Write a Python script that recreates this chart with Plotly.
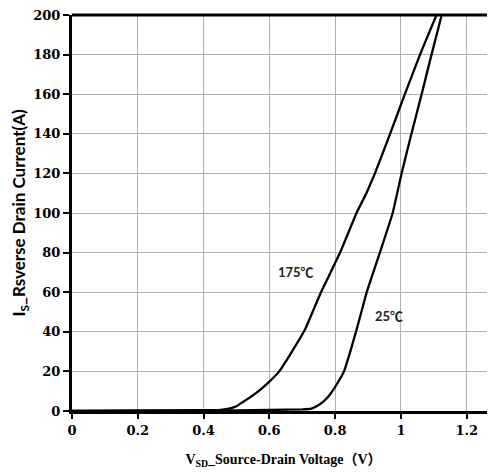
import plotly.graph_objects as go

# 175°C curve
v175 = [0.0, 0.30, 0.45, 0.47, 0.50, 0.521, 0.545, 0.571, 0.60, 0.630, 0.665, 0.708, 0.757, 0.815, 0.865, 0.895, 0.921, 0.967, 1.012, 1.058, 1.108]
i175 = [0.0, 0.3, 0.6, 0.9, 2.4, 4.7, 7.3, 10.5, 14.8, 20, 29, 41, 60, 80, 100, 110, 120, 140, 160, 180, 200]

# 25°C curve
v25 = [0.0, 0.50, 0.70, 0.728, 0.745, 0.764, 0.785, 0.805, 0.827, 0.846, 0.865, 0.896, 0.936, 0.975, 1.002, 1.032, 1.063, 1.093, 1.124]
i25 = [0.0, 0.3, 0.8, 1.2, 2.5, 4.7, 8.5, 13.5, 20, 30, 41, 60, 80, 100, 120, 140, 160, 180, 200]

xticks = [0, 0.2, 0.4, 0.6, 0.8, 1.0, 1.2]
xticklabels = ["0", "0.2", "0.4", "0.6", "0.8", "1", "1.2"]
yticks = [0, 20, 40, 60, 80, 100, 120, 140, 160, 180, 200]

labels = ["175℃", "25℃"]
label_pos = [(0.68, 70), (0.965, 48)]

fig = go.Figure()
for vx, iy in ((v175, i175), (v25, i25)):
    fig.add_trace(go.Scatter(x=vx, y=iy, mode="lines",
                             line=dict(color="black", width=2.3, shape="spline", smoothing=0.3),
                             showlegend=False))

for t, (xx, yy) in zip(labels, label_pos):
    fig.add_annotation(x=xx, y=yy, text="<b>" + t + "</b>", showarrow=False,
                       font=dict(family="Lato, Noto Sans CJK SC", size=13, color="#222"))

tickfont = dict(family="DejaVu Serif, Noto Sans CJK SC", size=13, color="black", weight="bold")
xtitlefont = dict(family="Liberation Serif, Noto Sans CJK SC", size=14, color="black", weight="bold")
ytitlefont = dict(family="Lato, Noto Sans, Noto Sans CJK SC", size=17, color="black", weight="bold")

fig.update_xaxes(range=[0, 1.286], tickvals=xticks, ticktext=xticklabels,
                 showgrid=True, gridcolor="#b0b0b0", gridwidth=1,
                 showline=True, linecolor="black", linewidth=3, mirror=False,
                 ticks="outside", ticklen=5, tickcolor="black", tickwidth=1.5,
                 tickfont=tickfont, zeroline=False, automargin=False,
                 ticklabeloverflow="allow",
                 title=dict(text="V<sub>SD</sub>_Source-Drain Voltage（V）", font=xtitlefont, standoff=18))
fig.update_yaxes(range=[0, 200], tickvals=yticks,
                 showgrid=True, gridcolor="#b0b0b0", gridwidth=1,
                 showline=True, linecolor="black", linewidth=3,
                 ticks="outside", ticklen=6, tickcolor="black", tickwidth=1.5,
                 tickfont=tickfont, zeroline=False, automargin=False,
                 ticklabeloverflow="allow",
                 title=dict(text="I<sub>S</sub>_Rsverse Drain Current(A)", font=ytitlefont, standoff=11))

# top border line
fig.add_shape(type="line", xref="paper", yref="paper", x0=0, x1=1, y0=1, y1=1,
              line=dict(color="black", width=3))

# page body has an 8px margin, so the figure is sized to fill the rest of the window
fig.update_layout(width=487, height=465, margin=dict(l=64, r=0, t=7, b=62),
                  plot_bgcolor="white", paper_bgcolor="white")

fig.write_html("out.html")
